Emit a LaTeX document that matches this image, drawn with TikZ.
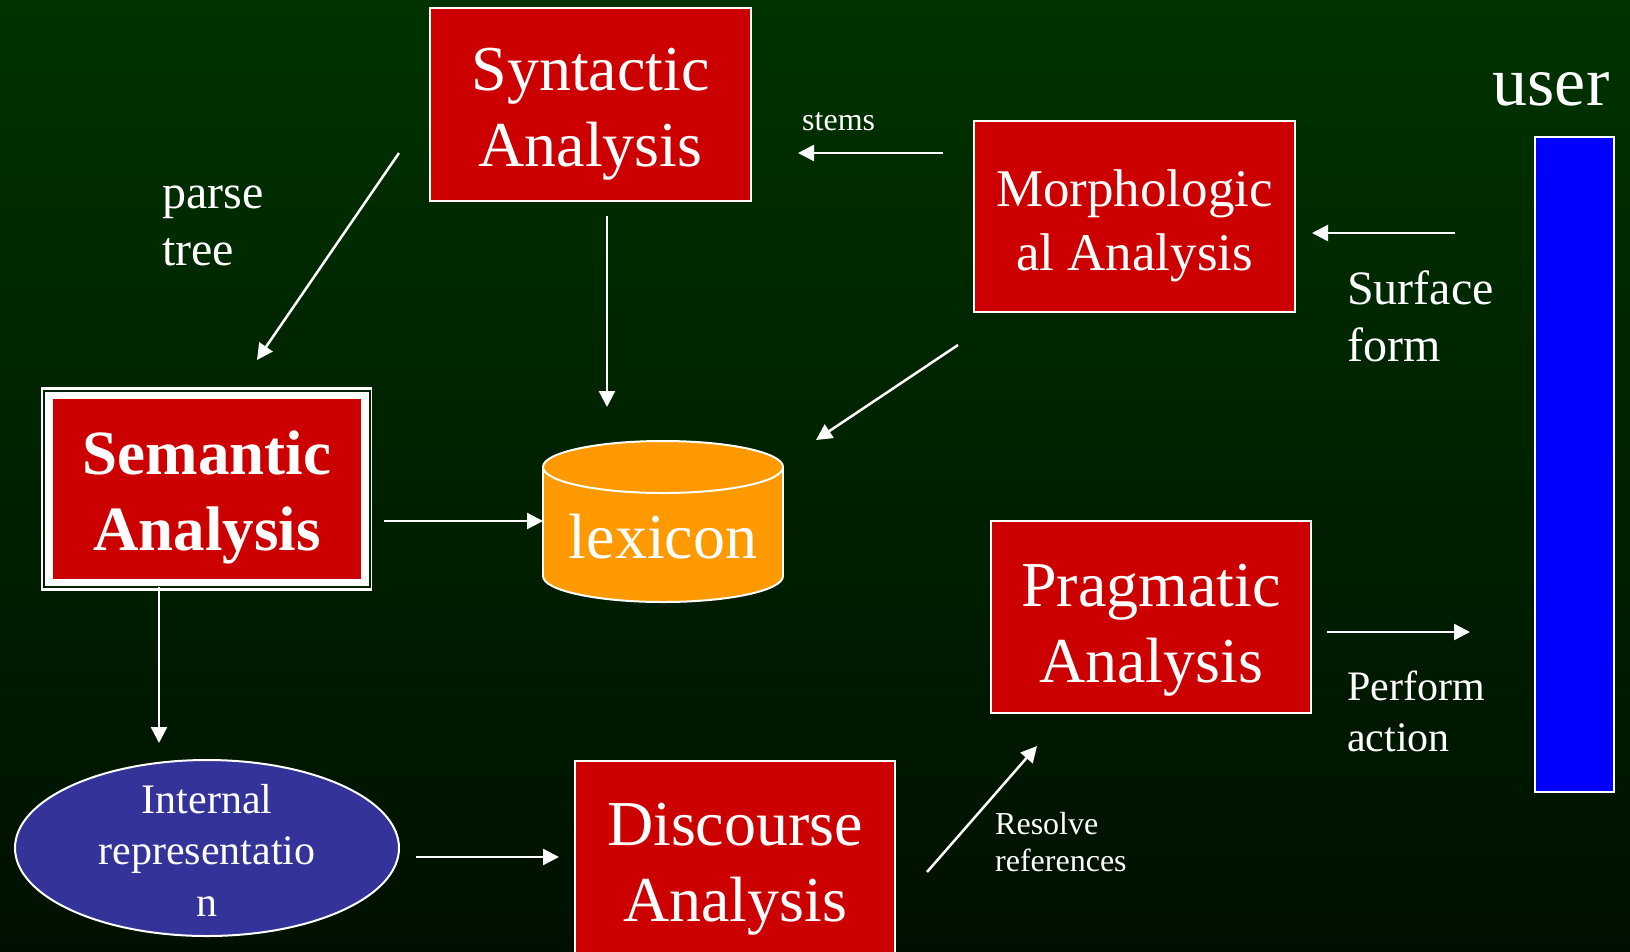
\documentclass[tikz,border=0pt]{standalone}
\usepackage{fontspec}
\setmainfont{Liberation Serif}
\usetikzlibrary{arrows.meta,shapes.geometric}
\definecolor{bgtop}{RGB}{0,51,0}
\definecolor{bgbot}{RGB}{0,16,0}
\definecolor{boxred}{RGB}{204,0,0}
\definecolor{lexorange}{RGB}{255,153,0}
\definecolor{repblue}{RGB}{51,51,153}
\definecolor{userblue}{RGB}{0,0,255}
\definecolor{gapgreen}{RGB}{0,36,0}
\begin{document}
\begin{tikzpicture}[x=1pt,y=-1pt,
  stage/.style={draw=white, line width=2pt, fill=boxred, inner sep=0pt},
  % multi-line texts are placed by the baseline of their last line
  bigtext/.style={text=white, align=center, anchor=base, inner sep=0pt,
    font=\fontsize{64}{76}\selectfont},
  midtext/.style={text=white, align=center, anchor=base, inner sep=0pt,
    font=\fontsize{53}{64}\selectfont},
  note/.style={text=white, align=left, anchor=base west, inner sep=0pt,
    font=\fontsize{48}{57}\selectfont},
  smallnote/.style={text=white, align=left, anchor=base west, inner sep=0pt,
    font=\fontsize{32}{37}\selectfont},
  flow/.style={draw=white, line width=2.5pt, -{Triangle[length=16pt,width=16pt]}},
]
% background
\shade[top color=bgtop, bottom color=bgbot, use as bounding box]
  (0,0) rectangle (1630,951);

% syntactic analysis
\node[stage, minimum width=321pt, minimum height=193pt] (syn) at (590.5,104.5) {};
\node[bigtext] (syntxt) at (590.5,166) {Syntactic\\Analysis};

% morphological analysis
\node[stage, minimum width=321pt, minimum height=191pt] (mor) at (1134.5,216.5) {};
\node[midtext] (mortxt) at (1134.5,270) {Morphologic\\al Analysis};

% pragmatic analysis
\node[stage, minimum width=320pt, minimum height=192pt] (pra) at (1151,617) {};
\node[bigtext] (pratxt) at (1151,682) {Pragmatic\\Analysis};

% discourse analysis (runs off the bottom edge)
\node[stage, minimum width=320pt, minimum height=200pt] (dis) at (735,861) {};
\node[bigtext] (distxt) at (735,921) {Discourse\\Analysis};

% semantic analysis with thick-thin frame
\fill[white] (41,387.3) rectangle (372.3,590.7);
\draw[gapgreen, line width=2pt] (43.7,390.5) rectangle (369.5,587.3);
\node[fill=boxred, inner sep=0pt, minimum width=308.3pt, minimum height=180pt] (sem) at (206.85,489) {};
\node[bigtext, font=\fontsize{63}{76}\selectfont\bfseries] (semtxt) at (207,550) {Semantic\\Analysis};

% lexicon store
\fill[lexorange, draw=white, line width=2pt] (663,576) ellipse (120 and 26);
\fill[lexorange] (543,467) rectangle (783,576);
\draw[white, line width=2pt] (543,467) -- (543,576) (783,467) -- (783,576);
\filldraw[fill=lexorange, draw=white, line width=2pt] (663,467) ellipse (120 and 26);
\node[text=white, anchor=base, inner sep=0pt, font=\fontsize{64}{76}\selectfont] (lex) at (663,558) {lexicon};

% internal representation
\node[ellipse, draw=white, line width=2pt, fill=repblue, minimum width=384pt, minimum height=176pt, inner sep=0pt] (rep) at (207,848) {};
\node[text=white, align=center, anchor=base, inner sep=0pt, font=\fontsize{42}{51.5}\selectfont] (reptxt) at (207,916) {Internal\\representatio\\n};

% user
\node[draw=white, line width=1.5pt, fill=userblue, minimum width=79pt, minimum height=655pt, inner sep=0pt] (user) at (1574.5,464.5) {};
\node[text=white, anchor=base, inner sep=0pt, font=\fontsize{70}{80}\selectfont] (usertxt) at (1551,105) {user};

% labels
\node[note] (lparse) at (162,265) {parse\\tree};
\node[smallnote] (lstems) at (802,130) {stems};
\node[note] (lsurf) at (1347,361) {Surface\\form};
\node[note, font=\fontsize{42}{51}\selectfont] (lperf) at (1347,751) {Perform\\action};
\node[smallnote] (lres) at (995,871) {Resolve\\references};

% arrow end points
\coordinate (a1s) at (399,153);  \coordinate (a1e) at (257,360);
\coordinate (a2s) at (607,216);  \coordinate (a2e) at (607,407);
\coordinate (a3s) at (943,153);  \coordinate (a3e) at (798,153);
\coordinate (a4s) at (1455,233); \coordinate (a4e) at (1312,233);
\coordinate (a5s) at (958,345);  \coordinate (a5e) at (816,440);
\coordinate (a6s) at (384,521);  \coordinate (a6e) at (543,521);
\coordinate (a7s) at (159,587);  \coordinate (a7e) at (159,743);
\coordinate (a8s) at (416,857);  \coordinate (a8e) at (559,857);
\coordinate (a9s) at (927,872);  \coordinate (a9e) at (1037,746);
\coordinate (a10s) at (1327,632); \coordinate (a10e) at (1470,632);

\draw[flow] (a1s) -- (a1e);
\draw[flow] (a2s) -- (a2e);
\draw[flow] (a3s) -- (a3e);
\draw[flow] (a4s) -- (a4e);
\draw[flow] (a5s) -- (a5e);
\draw[flow] (a6s) -- (a6e);
\draw[flow] (a7s) -- (a7e);
\draw[flow] (a8s) -- (a8e);
\draw[flow] (a9s) -- (a9e);
\draw[flow] (a10s) -- (a10e);
\end{tikzpicture}
\end{document}
